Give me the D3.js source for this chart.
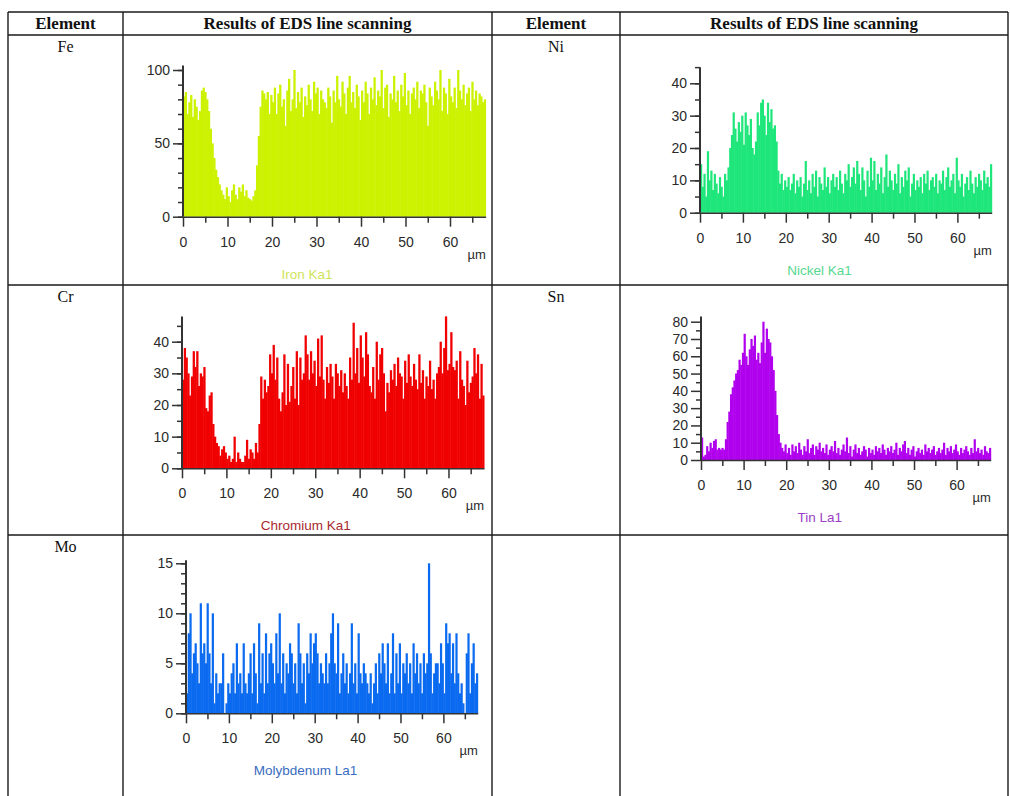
<!DOCTYPE html>
<html>
<head>
<meta charset="utf-8">
<script src="https://cdnjs.cloudflare.com/ajax/libs/d3/7.8.5/d3.min.js"></script>
<style>
  body { margin: 0; background: #fff; }
  .tbl-head { font-family: "Liberation Serif", "Times New Roman", serif; font-weight: bold; font-size: 17px; fill: #111; }
  .tbl-cell { font-family: "Liberation Serif", "Times New Roman", serif; font-size: 16px; fill: #111; }
  .axis text { font-family: "Liberation Sans", Arial, sans-serif; font-size: 14px; fill: #2a2a2a; }
  .axis line, .axis path { stroke: #333; stroke-width: 1.5; }
</style>
</head>
<body>
<div id="chart"></div>
<script>
// scan step along the line, µm
const step = 0.4;

const headers = ["Element", "Results of EDS line scanning", "Element", "Results of EDS line scanning"];
const elements = ["Fe", "Ni", "Cr", "Sn", "Mo"];
const lineNames = ["Iron Ka1", "Nickel Ka1", "Chromium Ka1", "Tin La1", "Molybdenum La1"];
const xTicks = [0, 10, 20, 30, 40, 50, 60];
const xMinorTicks = [5, 15, 25, 35, 45, 55, 65];

const feValues = [
  82, 85, 70, 78, 83, 68, 80, 75, 66, 72,
  86, 88, 85, 80, 72, 60, 50, 40, 32, 27,
  22, 18, 15, 12, 20, 14, 10, 18, 22, 15,
  12, 20, 17, 22, 14, 18, 13, 12, 11, 14,
  18, 35, 55, 75, 86, 84, 80, 85, 70, 83,
  78, 88, 70, 84, 90, 75, 80, 62, 86, 94,
  72, 80, 100, 74, 85, 78, 88, 68, 82, 76,
  90, 80, 72, 92, 84, 88, 70, 86, 80, 78,
  74, 88, 82, 64, 86, 78, 96, 80, 75, 92,
  84, 70, 88, 96, 78, 85, 74, 90, 82, 66,
  86, 78, 92, 84, 70, 88, 80, 95, 76, 86,
  82, 100, 74, 88, 90, 68, 84, 80, 96, 78,
  86, 72, 90, 82, 98, 76, 86, 70, 84, 88,
  80, 92, 74, 86, 84, 90, 78, 62, 88, 82,
  76, 92, 86, 80, 100, 72, 88, 84, 70, 94,
  82, 78, 88, 74, 100, 86, 80, 90, 76, 84,
  88, 72, 92, 80, 86, 76, 84, 82, 78, 80
];

const niValues = [
  15, 8, 12, 5, 19, 10, 13, 7, 12, 9,
  6, 11, 8, 5, 12, 10, 14, 20, 24, 31,
  26, 22, 28, 25, 30, 21, 31, 27, 24, 29,
  20, 18, 22, 31, 27, 34, 35, 30, 24, 34,
  28, 32, 26, 27, 22, 13, 9, 12, 7, 10,
  8, 11, 7, 9, 12, 6, 10, 8, 11, 5,
  9, 16, 7, 10, 6, 12, 8, 13, 5, 11,
  9, 7, 14, 8, 11, 6, 10, 12, 8, 11,
  7, 13, 9, 6, 12, 10, 15, 8, 11, 14,
  9, 16, 12, 7, 14, 10, 5, 13, 8, 17,
  10, 16, 7, 12, 9, 14, 6, 11, 18, 8,
  13, 10, 7, 12, 9, 15, 6, 11, 8, 13,
  10, 14, 5, 9, 12, 7, 10, 8, 11, 6,
  12, 9, 13, 7, 10, 11, 8, 12, 6, 10,
  9, 13, 7, 11, 14, 8, 10, 12, 6, 17,
  10, 8, 12, 5, 9, 11, 7, 13, 9, 6,
  11, 8, 12, 10, 7, 13, 9, 11, 8, 15
];

const crValues = [
  28, 38, 35, 30, 23, 29, 37, 32, 37, 26,
  30, 29, 32, 19, 18, 23, 24, 14, 10, 8,
  7, 4, 6, 7, 5, 3, 4, 2, 3, 10,
  2, 5, 3, 2, 2, 4, 9, 3, 6, 5,
  3, 8, 5, 14, 29, 22, 28, 24, 26, 36,
  30, 39, 28, 35, 22, 18, 24, 36, 20, 33,
  21, 26, 32, 22, 37, 20, 35, 28, 30, 42,
  36, 28, 37, 30, 34, 26, 41, 29, 42, 28,
  22, 32, 27, 33, 29, 22, 33, 30, 26, 31,
  24, 30, 26, 22, 35, 28, 46, 30, 38, 27,
  42, 35, 29, 43, 36, 26, 24, 32, 22, 40,
  28, 36, 38, 30, 18, 27, 24, 31, 28, 33,
  26, 35, 30, 29, 22, 34, 27, 36, 29, 26,
  33, 28, 25, 36, 27, 31, 22, 29, 26, 34,
  25, 28, 22, 30, 32, 40, 30, 38, 48, 31,
  33, 43, 32, 31, 34, 22, 37, 28, 26, 20,
  34, 24, 27, 29, 38, 30, 36, 22, 33, 23
];

const snValues = [
  13, 2, 3, 8, 5, 10, 7, 11, 12, 6,
  7, 6, 7, 6, 12, 22, 28, 38, 42, 46,
  50, 52, 58, 55, 62, 73, 60, 55, 64, 70,
  66, 72, 58, 62, 56, 68, 80, 62, 76, 70,
  68, 60, 52, 40, 26, 15, 10, 7, 5, 9,
  4, 7, 3, 9, 5, 8, 4, 10, 6, 3,
  8, 5, 12, 4, 7, 9, 3, 8, 6, 10,
  5, 7, 4, 9, 3, 6, 8, 5, 11, 4,
  7, 3, 6, 9, 5, 13, 4, 8, 2, 6,
  9, 4, 7, 3, 5, 8, 6, 2, 7, 4,
  6, 3, 8, 5, 7, 4, 9, 6, 3, 7,
  5, 8, 4, 6, 10, 3, 7, 5, 9, 11,
  4, 7, 3, 6, 8, 2, 5, 7, 4, 6,
  3, 9, 5, 7, 4, 6, 8, 3, 5, 7,
  4, 6, 10, 3, 7, 5, 8, 4, 6, 9,
  5, 3, 7, 4, 6, 8, 5, 3, 7, 4,
  12, 5, 7, 4, 6, 3, 8, 5, 4, 7
];

const moValues = [
  2, 8, 10, 4, 6, 7, 5, 3, 11, 6,
  7, 5, 11, 6, 3, 10, 1, 4, 2, 3,
  3, 6, 0, 1, 3, 2, 4, 5, 2, 7,
  3, 4, 2, 7, 3, 2, 4, 6, 2, 7,
  4, 1, 9, 3, 6, 2, 8, 3, 6, 7,
  5, 3, 8, 4, 10, 3, 6, 2, 5, 4,
  7, 6, 3, 5, 2, 9, 6, 3, 5, 1,
  6, 4, 8, 5, 7, 8, 6, 3, 5, 4,
  3, 6, 3, 5, 8, 10, 5, 4, 9, 2,
  4, 6, 3, 5, 2, 4, 9, 3, 5, 2,
  8, 4, 3, 5, 4, 3, 2, 4, 1, 3,
  5, 2, 6, 4, 7, 5, 3, 7, 2, 4,
  8, 2, 6, 3, 7, 2, 5, 4, 6, 3,
  5, 2, 7, 4, 6, 3, 5, 2, 6, 4,
  5, 15, 6, 2, 4, 5, 5, 3, 7, 5,
  2, 9, 7, 8, 4, 7, 3, 8, 4, 2,
  3, 1, 0, 6, 8, 2, 5, 7, 3, 4
];

const width = 1010, height = 796;

const svg = d3.select("#chart")
    .append("svg")
        .attr("width", width)
        .attr("height", height);

// ---- table ----
const colX = [8, 123, 492, 620, 1008];
const rowY = [12, 35, 285, 535];

const grid = svg.append("g")
    .attr("stroke", "#1a1a1a")
    .attr("stroke-width", 1.4);

rowY.forEach(y => grid.append("line")
    .attr("x1", colX[0]).attr("x2", colX[4])
    .attr("y1", y).attr("y2", y));
colX.forEach(x => grid.append("line")
    .attr("x1", x).attr("x2", x)
    .attr("y1", rowY[0]).attr("y2", height));

svg.selectAll(".tbl-head")
    .data(headers)
    .enter()
    .append("text")
        .classed("tbl-head", true)
        .attr("x", (d, i) => (colX[i] + colX[i + 1]) / 2)
        .attr("y", 29)
        .attr("text-anchor", "middle")
        .text(d => d);

// element column and row of each cell
const cellPos = [[0, 1], [2, 1], [0, 2], [2, 2], [0, 3]];

svg.selectAll(".tbl-cell")
    .data(elements)
    .enter()
    .append("text")
        .classed("tbl-cell", true)
        .attr("x", (d, i) => (colX[cellPos[i][0]] + colX[cellPos[i][0] + 1]) / 2)
        .attr("y", (d, i) => rowY[cellPos[i][1]] + 17)
        .attr("text-anchor", "middle")
        .text(d => d);

// ---- line scan plots ----
const panels = [
    { values: feValues, left: 183, right: 485.6, bottom: 216.7, top: 70, yMax: 100, axisTop: 103,
      yTicks: [0, 50, 100], yMinor: d3.range(0, 101, 10), fill: "#ccf200", label: "#cfe45a" },
    { values: niValues, left: 700, right: 991.7, bottom: 212.7, top: 83.3, yMax: 40, axisTop: 45,
      yTicks: [0, 10, 20, 30, 40], yMinor: d3.range(0, 46, 5), fill: "#1ee67a", label: "#57d890" },
    { values: crValues, left: 182, right: 484, bottom: 468.3, top: 341.7, yMax: 40, axisTop: 48,
      yTicks: [0, 10, 20, 30, 40], yMinor: d3.range(0, 46, 5), fill: "#f00000", label: "#a82a2e" },
    { values: snValues, left: 701, right: 990.7, bottom: 460, top: 321.7, yMax: 80, axisTop: 83,
      yTicks: d3.range(0, 81, 10), yMinor: d3.range(5, 81, 10), fill: "#b000ee", label: "#9a3ec8" },
    { values: moValues, left: 186, right: 477.7, bottom: 713.3, top: 563.3, yMax: 15, axisTop: 15.3,
      yTicks: [0, 5, 10, 15], yMinor: d3.range(0, 16, 1), fill: "#0a6af0", label: "#3a6cc0" }
];

panels.forEach((p, k) => {
    const n = p.values.length;
    const x = d3.scaleLinear()
        .domain([0, n * step])
        .range([p.left, p.right]);
    const y = d3.scaleLinear()
        .domain([0, p.yMax])
        .range([p.bottom, p.top]);

    const g = svg.append("g");
    const bw = x(step) - x(0);

    g.append("g")
        .selectAll("rect")
        .data(p.values)
        .enter()
        .append("rect")
            .attr("x", (d, i) => x(i * step))
            .attr("width", bw + 0.5)
            .attr("y", d => y(d))
            .attr("height", d => y(0) - y(d))
            .attr("fill", p.fill);

    // x axis
    g.append("g")
        .classed("axis", true)
        .attr("transform", `translate(0, ${p.bottom})`)
        .call(d3.axisBottom(x)
            .tickValues(xTicks)
            .tickSize(10)
            .tickPadding(10)
            .tickSizeOuter(0))
        .call(s => s.select(".domain").attr("stroke-width", 2));

    g.append("g")
        .classed("axis", true)
        .attr("transform", `translate(0, ${p.bottom})`)
        .call(d3.axisBottom(x)
            .tickValues(xMinorTicks)
            .tickSize(6)
            .tickFormat(""))
        .call(s => s.select(".domain").remove());

    // y axis
    g.append("g")
        .classed("axis", true)
        .attr("transform", `translate(${p.left}, 0)`)
        .call(d3.axisLeft(y)
            .tickValues(p.yTicks)
            .tickSize(10)
            .tickPadding(3))
        .call(s => s.select(".domain").remove());

    g.append("g")
        .classed("axis", true)
        .attr("transform", `translate(${p.left}, 0)`)
        .call(d3.axisLeft(y)
            .tickValues(p.yMinor)
            .tickSize(5)
            .tickFormat(""))
        .call(s => s.select(".domain").remove());

    g.append("line")
        .attr("x1", p.left).attr("x2", p.left)
        .attr("y1", p.bottom).attr("y2", y(p.axisTop))
        .attr("stroke", "#333")
        .attr("stroke-width", 2);

    g.append("text")
        .attr("x", p.right - 9)
        .attr("y", p.bottom + 42)
        .attr("text-anchor", "middle")
        .attr("font-family", "Liberation Sans, Arial, sans-serif")
        .attr("font-size", 13)
        .attr("fill", "#2a2a2a")
        .text("µm");

    g.append("text")
        .attr("x", p.left + 0.41 * (p.right - p.left))
        .attr("y", p.bottom + 62)
        .attr("text-anchor", "middle")
        .attr("font-family", "Liberation Sans, Arial, sans-serif")
        .attr("font-size", 13.5)
        .attr("fill", p.label)
        .text(lineNames[k]);
});
</script>
</body>
</html>
